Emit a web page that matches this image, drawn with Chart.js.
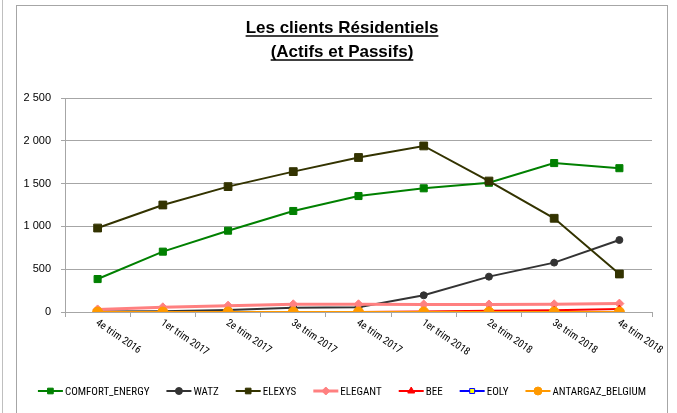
<!DOCTYPE html>
<html>
<head>
<meta charset="utf-8">
<script src="https://cdn.jsdelivr.net/npm/chart.js@4/dist/chart.umd.min.js"></script>
<style>
  html, body { margin: 0; padding: 0; background: #fff; }
  #wrap { width: 677px; height: 413px; }
</style>
</head>
<body>
<div id="wrap"><canvas id="chart" width="677" height="413"></canvas></div>
<script>
// Données
const titleLines = ['Les clients Résidentiels', '(Actifs et Passifs)'];
const quarters = ['4e trim 2016', '1er trim 2017', '2e trim 2017', '3e trim 2017', '4e trim 2017',
  '1er trim 2018', '2e trim 2018', '3e trim 2018', '4e trim 2018'];
const yTicks = [0, 500, 1000, 1500, 2000, 2500];

const comfortEnergy = [385, 705, 950, 1180, 1355, 1445, 1510, 1740, 1680];
const watz = [5, 10, 23, 50, 55, 195, 413, 577, 841];
const elexys = [981, 1250, 1465, 1640, 1805, 1940, 1530, 1095, 444];
const elegant = [30, 55, 74, 90, 90, 88, 88, 90, 98];
const bee = [0, 0, 0, 0, 0, 5, 15, 20, 35];
const eoly = [0, 0, 0, 0, 0, 0, 0, 0, 0];
const antargaz = [0, 0, 0, 0, 0, 0, 0, 0, 0];

const FONT = '"Liberation Sans", Arial, sans-serif';
const NARROW = '"Liberation Sans Narrow", "Roboto Condensed", "Liberation Sans", sans-serif';
const GRID = '#A6A6A6';

function makeSet(label, data, color, style, radius, extra) {
  return Object.assign({
    label: label,
    data: data,
    borderColor: color,
    backgroundColor: color,
    pointBackgroundColor: color,
    pointBorderColor: color,
    pointStyle: style,
    pointRadius: radius,
    pointBorderWidth: 1,
    borderWidth: 2,
    tension: 0
  }, extra || {});
}

const datasets = [
  makeSet('COMFORT_ENERGY', comfortEnergy, '#008000', 'rect', 5),
  makeSet('WATZ', watz, '#333333', 'circle', 3.5),
  makeSet('ELEXYS', elexys, '#333300', 'rect', 5.5),
  makeSet('ELEGANT', elegant, '#FF8080', 'rectRot', 4.5, { borderWidth: 3 }),
  makeSet('BEE', bee, '#FF0000', 'triangle', 4),
  makeSet('EOLY', eoly, '#0000FF', 'rect', 3.5, { pointBackgroundColor: '#FFFF00', pointBorderColor: '#0000FF' }),
  makeSet('ANTARGAZ_BELGIUM', antargaz, '#FF9900', 'circle', 5)
];
// la dernière série est dessinée au-dessus
datasets.forEach((ds, i) => { ds.order = datasets.length - i; });

// cadre, titre souligné, étiquettes inclinées et légende
const decorations = {
  id: 'decorations',
  beforeDraw(chart) {
    const ctx = chart.ctx;
    ctx.save();
    ctx.strokeStyle = '#BFBFBF';
    ctx.lineWidth = 1;
    ctx.beginPath();
    ctx.moveTo(2.5, 0); ctx.lineTo(2.5, 413);
    ctx.stroke();
    ctx.strokeStyle = GRID;
    ctx.strokeRect(16.5, 5.5, 651, 420);
    ctx.restore();
  },
  afterDraw(chart) {
    const ctx = chart.ctx;
    const cx = 342;
    ctx.save();
    // titre
    ctx.fillStyle = '#000';
    ctx.strokeStyle = '#000';
    ctx.font = 'bold 17px ' + FONT;
    ctx.textAlign = 'center';
    ctx.textBaseline = 'alphabetic';
    titleLines.forEach((line, i) => {
      const y = 33 + i * 24;
      ctx.fillText(line, cx, y);
      const w = ctx.measureText(line).width;
      ctx.lineWidth = 1.5;
      ctx.beginPath();
      ctx.moveTo(cx - w / 2, y + 3);
      ctx.lineTo(cx + w / 2, y + 3);
      ctx.stroke();
    });

    // étiquettes de l'axe X
    const xs = chart.scales.x;
    ctx.font = '10.5px ' + NARROW;
    ctx.fillStyle = '#000';
    ctx.textAlign = 'left';
    ctx.textBaseline = 'middle';
    quarters.forEach((q, i) => {
      const x = xs.getPixelForTick(i);
      ctx.save();
      ctx.translate(x - 1, chart.chartArea.bottom + 10);
      ctx.rotate(0.6);
      ctx.fillText(q, 0, 0);
      ctx.restore();
    });

    // légende
    ctx.font = '11px ' + NARROW;
    const seg = 25, gap = 17, ly = 391;
    const widths = datasets.map(ds => ctx.measureText(ds.label).width);
    const total = widths.reduce((s, w) => s + seg + 2 + w, 0) + gap * (datasets.length - 1);
    let x = cx - total / 2;
    datasets.forEach((ds, i) => {
      ctx.strokeStyle = ds.borderColor;
      ctx.lineWidth = ds.borderWidth;
      ctx.beginPath();
      ctx.moveTo(x, ly); ctx.lineTo(x + seg, ly);
      ctx.stroke();
      ctx.fillStyle = ds.pointBackgroundColor;
      ctx.strokeStyle = ds.pointBorderColor;
      ctx.lineWidth = 1;
      Chart.helpers.drawPoint(ctx, { pointStyle: ds.pointStyle, radius: Math.min(ds.pointRadius, 4), rotation: 0, borderWidth: 1 }, x + seg / 2, ly);
      ctx.fillStyle = '#000';
      ctx.textBaseline = 'middle';
      ctx.fillText(ds.label, x + seg + 2, ly + 1);
      x += seg + 2 + widths[i] + gap;
    });
    ctx.restore();
  }
};

new Chart(document.getElementById('chart'), {
  type: 'line',
  data: { labels: quarters, datasets: datasets },
  plugins: [decorations],
  options: {
    responsive: false,
    animation: false,
    layout: { padding: { top: 98, right: 25, left: 0, bottom: 0 } },
    plugins: {
      legend: { display: false },
      title: { display: false },
      tooltip: { enabled: false }
    },
    scales: {
      x: {
        offset: true,
        afterFit(scale) { scale.height = 101; },
        grid: { offset: true, drawOnChartArea: false, color: GRID, tickLength: 5 },
        border: { color: GRID },
        ticks: { display: false }
      },
      y: {
        min: 0,
        max: 2500,
        afterFit(scale) { scale.width = 65; },
        afterBuildTicks(scale) { scale.ticks = yTicks.map(v => ({ value: v })); },
        grid: { color: GRID, lineWidth: 1, tickLength: 4 },
        border: { color: GRID },
        ticks: {
          padding: 10,
          color: '#000',
          font: { family: FONT, size: 11 },
          callback: v => String(v).replace(/\B(?=(\d{3})+(?!\d))/g, ' ')
        }
      }
    }
  }
});
</script>
</body>
</html>
